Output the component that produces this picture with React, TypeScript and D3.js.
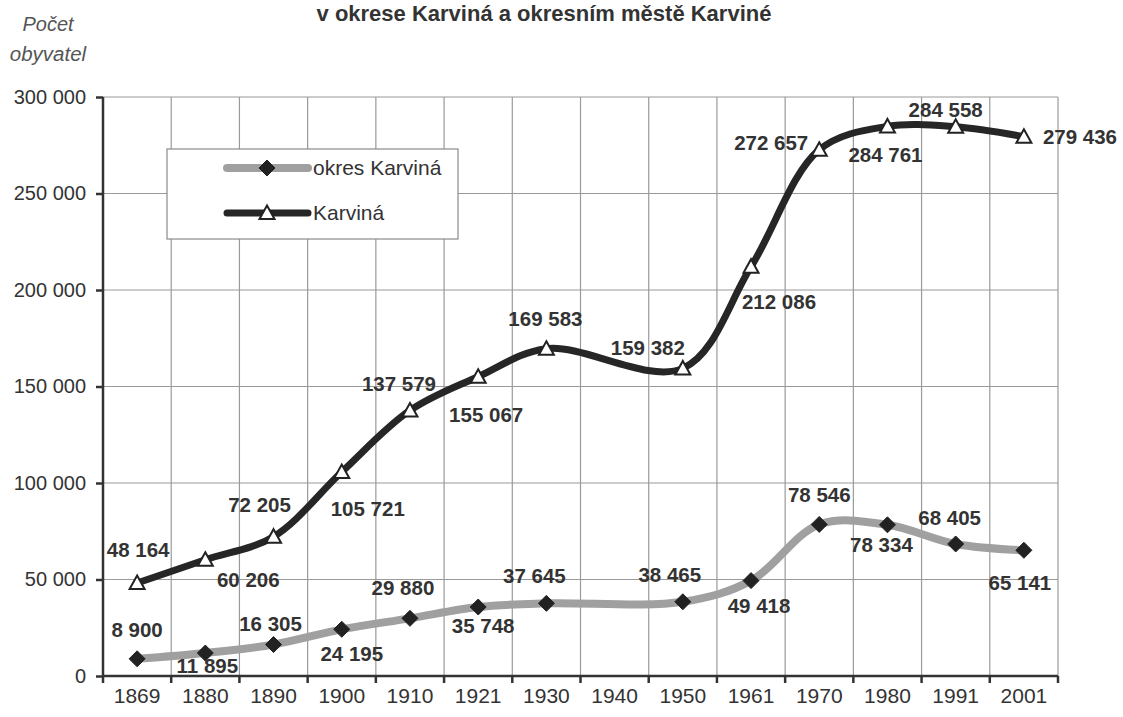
import React, { useRef, useEffect } from "react";
import * as d3 from "d3";

// census years (1940 has no value for the city series)
const years = ["1869", "1880", "1890", "1900", "1910", "1921", "1930", "1940", "1950", "1961", "1970", "1980", "1991", "2001"];

const okresValues = [8900, 11895, 16305, 24195, 29880, 35748, 37645, null, 38465, 49418, 78546, 78334, 68405, 65141];
const karvinaValues = [48164, 60206, 72205, 105721, 137579, 155067, 169583, null, 159382, 212086, 272657, 284761, 284558, 279436];

const yTicks = [0, 50000, 100000, 150000, 200000, 250000, 300000];

const titleText = "v okrese Karviná a okresním městě Karviné";
const legendNames = ["okres Karviná", "Karviná"];

// label placement relative to its point: [dx, dy, anchor]
const okresLabelPos: [number, number, string][] = [
  [0, -22, "middle"], [2, 20, "middle"], [-3, -14, "middle"], [10, 32, "middle"],
  [-7, -23, "middle"], [5, 26, "middle"], [-12, -20, "middle"], [0, 0, "middle"],
  [-13, -20, "middle"], [8, 32, "middle"], [0, -22, "middle"], [-6, 27, "middle"],
  [-6, -19, "middle"], [-4, 40, "middle"],
];
const karvinaLabelPos: [number, number, string][] = [
  [1, -26, "middle"], [43, 27, "middle"], [-14, -25, "middle"], [26, 44, "middle"],
  [-11, -19, "middle"], [8, 45, "middle"], [-1, -23, "middle"], [0, 0, "middle"],
  [-35, -13, "middle"], [28, 42, "middle"], [-11, 0, "end"], [-2, 36, "middle"],
  [-10, -10, "middle"], [19, 7, "start"],
];

const W = 1123;
const H = 717;
const font = "'Liberation Sans', Arial, sans-serif";

function App() {
  const svgRef = useRef<SVGSVGElement>(null);

  useEffect(() => {
    const svg = d3.select(svgRef.current);
    svg.selectAll("*").remove();

    const left = 103, right = 1058, top = 97, bottom = 676;

    const x = d3.scaleBand().domain(years).range([left, right]).paddingInner(0).paddingOuter(0);
    const y = d3.scaleLinear().domain([0, 300000]).range([bottom, top]);
    const cx = (yr: string) => (x(yr) as number) + x.bandwidth() / 2;

    const fmt = d3.formatLocale({ thousands: " ", grouping: [3], decimal: ",", currency: ["", ""] }).format(",d");

    svg.append("rect").attr("width", W).attr("height", H).attr("fill", "#fff");

    // title and axis caption
    svg.append("text").attr("x", 544).attr("y", 21).attr("text-anchor", "middle")
      .attr("font-family", font).attr("font-size", 22).attr("font-weight", "bold").attr("fill", "#333")
      .text(titleText);
    svg.append("text").attr("x", 48).attr("y", 31).attr("text-anchor", "middle")
      .attr("font-family", font).attr("font-size", 20).attr("font-style", "italic").attr("fill", "#555")
      .text("Počet");
    svg.append("text").attr("x", 48).attr("y", 61).attr("text-anchor", "middle")
      .attr("font-family", font).attr("font-size", 20.5).attr("font-style", "italic").attr("fill", "#555")
      .text("obyvatel");

    // grid
    const grid = svg.append("g").attr("stroke", "#9a9a9a").attr("stroke-width", 1.2);
    grid.selectAll(".hg").data(yTicks.filter(t => t > 0)).join("line")
      .attr("x1", left).attr("x2", right).attr("y1", d => y(d)).attr("y2", d => y(d));
    grid.selectAll(".vg").data(years).join("line")
      .attr("x1", d => (x(d) as number) + x.bandwidth()).attr("x2", d => (x(d) as number) + x.bandwidth())
      .attr("y1", top).attr("y2", bottom);

    // axes
    const yAxis = svg.append("g").attr("transform", `translate(${left},0)`)
      .call(d3.axisLeft(y).tickValues(yTicks).tickFormat(d => fmt(d as number)).tickSize(7).tickPadding(10));
    const xAxis = svg.append("g").attr("transform", `translate(0,${bottom})`)
      .call(d3.axisBottom(x).tickSize(0).tickPadding(12));
    xAxis.selectAll(".tick").append("line")
      .attr("x1", x.bandwidth() / 2).attr("x2", x.bandwidth() / 2).attr("y1", 0).attr("y2", 7);
    xAxis.append("line").attr("x1", left).attr("x2", left).attr("y1", 0).attr("y2", 7);
    [yAxis, xAxis].forEach(a => {
      a.select(".domain").attr("stroke", "#333").attr("stroke-width", 2.5);
      a.selectAll("line").attr("stroke", "#333").attr("stroke-width", 2.5);
      a.selectAll("text").attr("font-family", font).attr("fill", "#333");
    });
    yAxis.selectAll("text").attr("font-size", 20);
    xAxis.selectAll("text").attr("font-size", 21);
    yAxis.select(".domain").attr("d", `M0,${top}V${bottom}`);
    xAxis.select(".domain").attr("d", `M${left},0H${right}`);

    const series = [
      { values: okresValues, color: "#a0a0a0", width: 8, marker: "diamond", pos: okresLabelPos },
      { values: karvinaValues, color: "#262626", width: 7, marker: "triangle", pos: karvinaLabelPos },
    ];

    const lineGen = d3.line<{ yr: string; v: number }>()
      .x(d => cx(d.yr)).y(d => y(d.v)).curve(d3.curveCatmullRom.alpha(0.5));

    const diamond = "M0,-8L8,0L0,8L-8,0Z";
    const triangle = "M0,-7.5L7.5,6L-7.5,6Z";

    series.forEach(s => {
      const pts = years.map((yr, i) => ({ yr, v: s.values[i] as number, i })).filter(p => p.v != null);
      svg.append("path").datum(pts).attr("d", lineGen as any)
        .attr("fill", "none").attr("stroke", s.color).attr("stroke-width", s.width)
        .attr("stroke-linejoin", "round").attr("stroke-linecap", "round");
      svg.selectAll(null).data(pts).join("path")
        .attr("transform", d => `translate(${cx(d.yr)},${y(d.v)})`)
        .attr("d", s.marker === "diamond" ? diamond : triangle)
        .attr("fill", s.marker === "diamond" ? "#222" : "#fff")
        .attr("stroke", "#222").attr("stroke-width", s.marker === "diamond" ? 1 : 2);
      svg.selectAll(null).data(pts).join("text")
        .attr("x", d => cx(d.yr) + s.pos[d.i][0])
        .attr("y", d => y(d.v) + s.pos[d.i][1])
        .attr("text-anchor", d => s.pos[d.i][2])
        .attr("font-family", font).attr("font-size", 20.5).attr("font-weight", "bold").attr("fill", "#333")
        .text(d => fmt(d.v));
    });

    // legend
    const lg = svg.append("g");
    lg.append("rect").attr("x", 167).attr("y", 149).attr("width", 291).attr("height", 90)
      .attr("fill", "#fff").attr("stroke", "#8a8a8a").attr("stroke-width", 1.2);
    series.forEach((s, i) => {
      const ly = 168 + i * 45;
      lg.append("line").attr("x1", 227).attr("x2", 308).attr("y1", ly).attr("y2", ly)
        .attr("stroke", s.color).attr("stroke-width", s.width).attr("stroke-linecap", "round");
      lg.append("path").attr("transform", `translate(267,${ly})`)
        .attr("d", s.marker === "diamond" ? diamond : triangle)
        .attr("fill", s.marker === "diamond" ? "#222" : "#fff")
        .attr("stroke", "#222").attr("stroke-width", s.marker === "diamond" ? 1 : 2);
      lg.append("text").attr("x", 313).attr("y", ly + 7)
        .attr("font-family", font).attr("font-size", 21).attr("fill", "#333")
        .text(legendNames[i]);
    });
  }, []);

  return (
    <svg ref={svgRef} width={W} height={H} style={{ position: "absolute", left: 0, top: 0 }} />
  );
}

export default App;
